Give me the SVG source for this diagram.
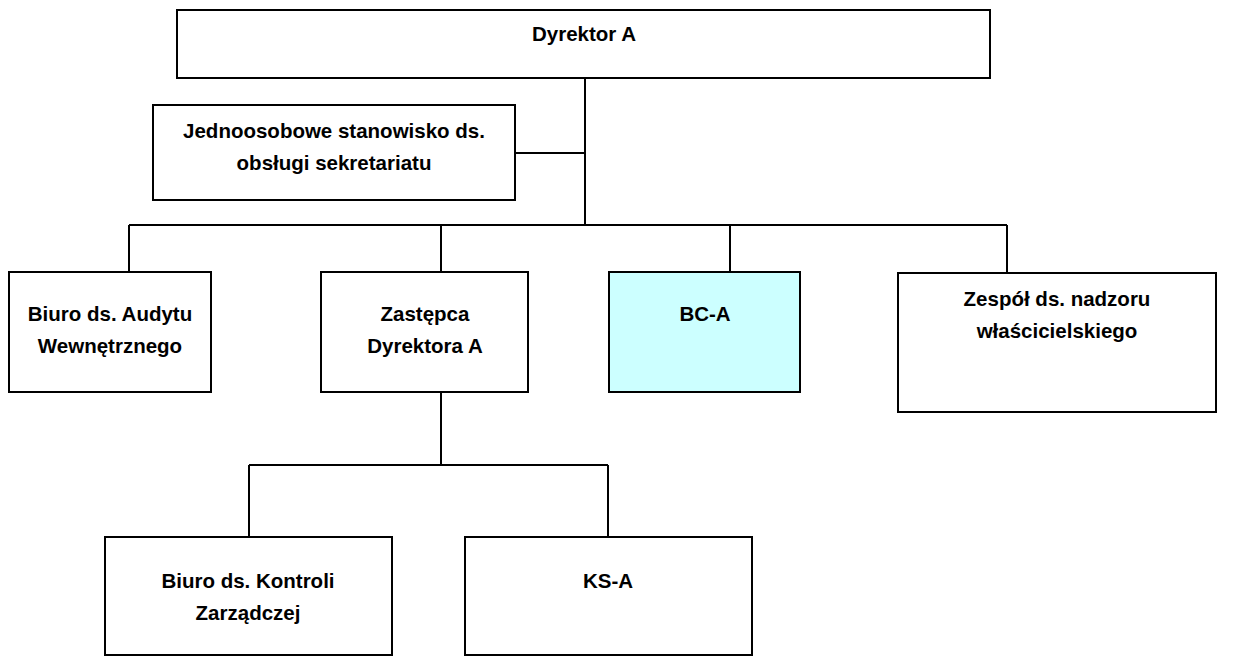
<svg xmlns="http://www.w3.org/2000/svg" width="1234" height="657" viewBox="0 0 1234 657">
<style>
.box{fill:#fff;stroke:#000;stroke-width:2}
.cyan{fill:#ccffff}
.t{font-family:"Liberation Sans",Arial,sans-serif;font-weight:bold;font-size:20.5px;text-anchor:middle;fill:#000}
.c{fill:none;stroke:#000;stroke-width:2}
</style>
<rect width="1234" height="657" fill="#fff"/>
<g id="connectors">
<path class="c" d="M585 78V225M515 153H585M129 225H1007M129 225V272M441 225V272M730 225V272M1007 225V273M441 392V465M249 465H608M249 465V537M608 465V537"/>
</g>
<g id="dyrektor"><rect class="box" x="177" y="10" width="813" height="68"/><text class="t" x="584" y="41">Dyrektor A</text></g>
<g id="sekretariat"><rect class="box" x="153" y="105" width="362" height="95"/><text class="t" x="334" y="138">Jednoosobowe stanowisko ds.</text><text class="t" x="334" y="170">obsługi sekretariatu</text></g>
<g id="audyt"><rect class="box" x="9" y="272" width="202" height="120"/><text class="t" x="110" y="321">Biuro ds. Audytu</text><text class="t" x="110" y="353">Wewnętrznego</text></g>
<g id="zastepca"><rect class="box" x="321" y="272" width="207" height="120"/><text class="t" x="425" y="321">Zastępca</text><text class="t" x="425" y="353">Dyrektora A</text></g>
<g id="bca"><rect class="box cyan" x="609" y="272" width="191" height="120"/><text class="t" x="705" y="321">BC-A</text></g>
<g id="zespol"><rect class="box" x="898" y="273" width="318" height="139"/><text class="t" x="1057" y="306">Zespół ds. nadzoru</text><text class="t" x="1057" y="338">właścicielskiego</text></g>
<g id="kontrola"><rect class="box" x="105" y="537" width="287" height="118"/><text class="t" x="248" y="588">Biuro ds. Kontroli</text><text class="t" x="248" y="620">Zarządczej</text></g>
<g id="ksa"><rect class="box" x="465" y="537" width="287" height="118"/><text class="t" x="608" y="588">KS-A</text></g>
</svg>
